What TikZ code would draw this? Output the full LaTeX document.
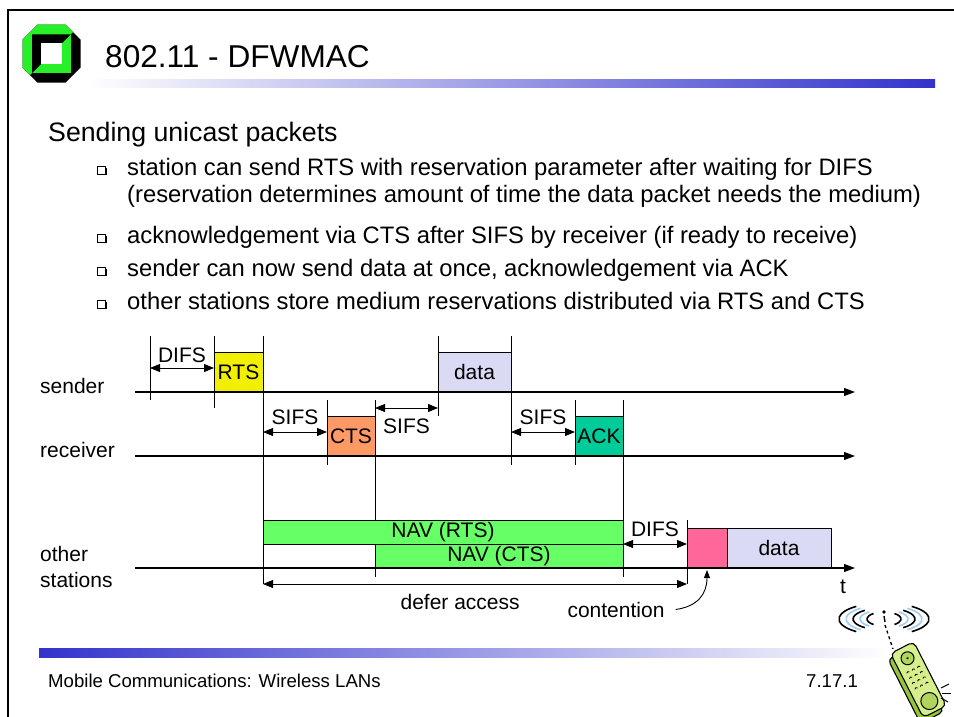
\documentclass[tikz,border=0pt]{standalone}
\usepackage{fontspec}
\setmainfont{Liberation Sans}
\usetikzlibrary{arrows.meta}

\definecolor{barblue}{RGB}{51,51,204}
\definecolor{logogreen}{RGB}{40,240,40}
\definecolor{rtscol}{RGB}{240,240,0}
\definecolor{ctscol}{RGB}{255,153,102}
\definecolor{ackcol}{RGB}{0,204,153}
\definecolor{datacol}{RGB}{218,218,245}
\definecolor{navcol}{RGB}{102,255,102}
\definecolor{contcol}{RGB}{255,102,153}
\definecolor{wavecol}{RGB}{160,205,240}
\definecolor{phonelight}{RGB}{215,238,140}
\definecolor{phonedark}{RGB}{150,195,60}

\newcommand\titlesize{\fontsize{31.6}{38}\selectfont}
\newcommand\headsize{\fontsize{26.7}{32}\selectfont}
\newcommand\itemsize{\fontsize{23.8}{26}\selectfont}
\newcommand\labsize{\fontsize{21}{25}\selectfont}
\newcommand\footsize{\fontsize{18.6}{22}\selectfont}

\begin{document}
\begin{tikzpicture}[x=1pt,y=-1pt,
		pkt/.style={draw, line width=0.9pt, minimum height=40pt, inner sep=0pt, outer sep=0pt, font=\labsize, anchor=south west},
		nav/.style={pkt, fill=navcol, minimum height=24pt},
		dim/.style={{Triangle[length=10pt,width=8pt]}-{Triangle[length=10pt,width=8pt]}, line width=0.9pt},
		timeaxis/.style={-{Triangle[length=11pt,width=8pt]}, line width=1.1pt},
		tmark/.style={line width=0.8pt},
		lbl/.style={font=\labsize, inner sep=0pt},
		txt/.style={inner sep=0pt, anchor=base west}]
	\path[use as bounding box, fill=white] (0,0) rectangle (954,717);

	% slide frame and bars
	\draw[line width=2.2pt] (7,10) -- (954,10);
	\draw[line width=2.2pt] (8,10) -- (8,717);
	\shade[left color=white, right color=barblue] (85,80) rectangle (935,88);
	\shade[left color=barblue, right color=white] (39,648) rectangle (890,657);

	% logo
	\begin{scope}[shift={(51.5,53.7)}]
		\begin{scope}
			\clip (-14,-29) -- (14,-29) -- (29,-14) -- (29,14) -- (14,29) -- (-14,29) -- (-29,14) -- (-29,-14) -- cycle;
			\fill[black] (-30,-30) rectangle (30,30);
			\fill[logogreen] (-30,-30) -- (30,-30) -- (-30,30) -- cycle;
		\end{scope}
		\fill[logogreen] (-19.3,-19.3) rectangle (19.3,19.3);
		\fill[black] (-19.3,-19.3) -- (19.3,-19.3) -- (-19.3,19.3) -- cycle;
		\fill[white] (-10.8,-10.8) rectangle (10.8,10.8);
	\end{scope}

	\node[txt, font=\titlesize] (title) at (105,67) {802.11 - DFWMAC};
	\node[txt, font=\headsize] (head) at (48,142) {Sending unicast packets};
	\node[txt, font=\itemsize] (item1) at (127,175) {station can send RTS with reservation parameter after waiting for DIFS};
	\node[txt, font=\itemsize] (item1b) at (127,202) {(reservation determines amount of time the data packet needs the medium)};
	\node[txt, font=\itemsize] (item2) at (127,243) {acknowledgement via CTS after SIFS by receiver (if ready to receive)};
	\node[txt, font=\itemsize] (item3) at (127,276) {sender can now send data at once, acknowledgement via ACK};
	\node[txt, font=\itemsize] (item4) at (127,309) {other stations store medium reservations distributed via RTS and CTS};
	\foreach \y in {175,243,276,309} {
		\draw[line width=0.7pt] (97,\y-9) rectangle (105,\y-1);
		\draw[line width=1.4pt] (98.5,\y-0.3) -- (106,\y-0.3) -- (106,\y-7.5);
	}

	% timing diagram
	\node[lbl, anchor=base west] (lsend) at (40,393) {sender};
	\node[lbl, anchor=base west] (lrecv) at (40,457) {receiver};
	\node[lbl, anchor=base west] (lother) at (40,561) {other};
	\node[lbl, anchor=base west] (lstat) at (40,587) {stations};

	\foreach \x/\a/\b in {150/336/400, 214/336/408, 263/336/584, 327/400/465, 375/400/577,
			438/336/416, 511/336/465, 575/400/465, 623/400/577, 687/520/584}
		\draw[tmark] (\x,\a) -- (\x,\b);

	\node[pkt, fill=rtscol, minimum width=49pt] (rts) at (214,392) {RTS};
	\node[pkt, fill=ctscol, minimum width=48pt] (cts) at (327,456) {CTS};
	\node[pkt, fill=datacol, minimum width=73pt] (data) at (438,392) {data};
	\node[pkt, fill=ackcol, minimum width=48pt] (ack) at (575,456) {ACK};
	\node[nav, minimum width=360pt] (navrts) at (263,544) {NAV (RTS)};
	\node[nav, minimum width=248pt] (navcts) at (375,568) {NAV (CTS)};
	\node[pkt, fill=contcol, minimum width=40pt] (cont) at (687,568) {};
	\node[pkt, fill=datacol, minimum width=104pt] (data2) at (727,568) {data};

	\coordinate (snd0) at (135,392); \coordinate (snd1) at (855,392);
	\coordinate (rcv0) at (135,456); \coordinate (rcv1) at (855,456);
	\coordinate (oth0) at (135,568); \coordinate (oth1) at (855,568);
	\draw[timeaxis] (snd0) -- (snd1);
	\draw[timeaxis] (rcv0) -- (rcv1);
	\draw[timeaxis] (oth0) -- (oth1);

	\coordinate (difs1) at (150,368);
	\coordinate (sifs1) at (263,432);
	\coordinate (sifs2) at (375,408);
	\coordinate (sifs3) at (511,432);
	\coordinate (difs2) at (623,544);
	\coordinate (defer) at (263,584);
	\draw[dim] (difs1) -- (difs1 -| rts.west) node[midway, lbl, above=5pt] {DIFS};
	\draw[dim] (sifs1) -- (sifs1 -| cts.west) node[midway, lbl, above=7pt] {SIFS};
	\draw[dim] (sifs2) -- (sifs2 -| data.west) node[midway, lbl, below=10pt] {SIFS};
	\draw[dim] (sifs3) -- (sifs3 -| ack.west) node[midway, lbl, above=7pt] {SIFS};
	\draw[dim] (difs2) -- (difs2 -| cont.west) node[midway, lbl, above=7pt] {DIFS};
	\draw[dim] (defer) -- (defer -| cont.west) node[pos=0.465, lbl, below=10pt] {defer access};

	\node[lbl, anchor=base] (cnt) at (616,617) {contention};
	\node[lbl, anchor=base] (tlab) at (843,593) {t};
	\draw[-{Triangle[length=8pt,width=6pt]}, line width=0.9pt] ([xshift=11pt]cnt.east) .. controls +(22,-3) and +(0,24) .. ([yshift=-2pt]cont.south);

	\node[txt, font=\footsize] (foot) at (48,687) {Mobile Communications: Wireless LANs};
	\node[txt, font=\footsize] (page) at (806,687) {7.17.1};

	% phone
	\foreach \r/\ry/\col in {45/16/black, 38/13.5/wavecol, 31/11/black, 24/9/wavecol, 17/7/black} {
		\draw[\col, line width=1.6pt] ([shift={(128:{\r} and {\ry})}]884,619) arc[start angle=128, end angle=232, x radius=\r, y radius=\ry];
		\draw[\col, line width=1.6pt] ([shift={(-52:{\r} and {\ry})}]884,619) arc[start angle=-52, end angle=52, x radius=\r, y radius=\ry];
	}
	\fill (884,612) circle (1.8);
	\draw[line width=1.4pt] (884,616) -- (885,622);
	\draw[dashed, line width=1.3pt] (885,625) -- (893,649);
	\begin{scope}[shift={(918,681)}, rotate=27]
		\draw[line width=1.1pt, fill=phonedark, rounded corners=5pt] (-17,-33) rectangle (9,39);
		\draw[line width=1.1pt, fill=phonelight, rounded corners=5pt] (-12,-37) rectangle (14,35);
		\draw[line width=1pt, fill=phonedark!60!phonelight] (1,-25) circle (6.5);
		\draw[line width=1pt, fill=phonedark!60!phonelight] (1,23) circle (8.5);
		\fill (1,-25) circle (1.2);
		\foreach \u in {-5,1,7}
			\foreach \v in {-13,-7,-1,5}
				\draw[line width=0.8pt] (\u-1.5,\v+1) -- (\u,\v) -- (\u+1.5,\v+1);
	\end{scope}
	\draw[line width=1pt] (941,688) -- (949,684);
	\draw[line width=1pt] (942,693) -- (951,693);
	\draw[line width=1pt] (941,698) -- (948,702);
\end{tikzpicture}
\end{document}
